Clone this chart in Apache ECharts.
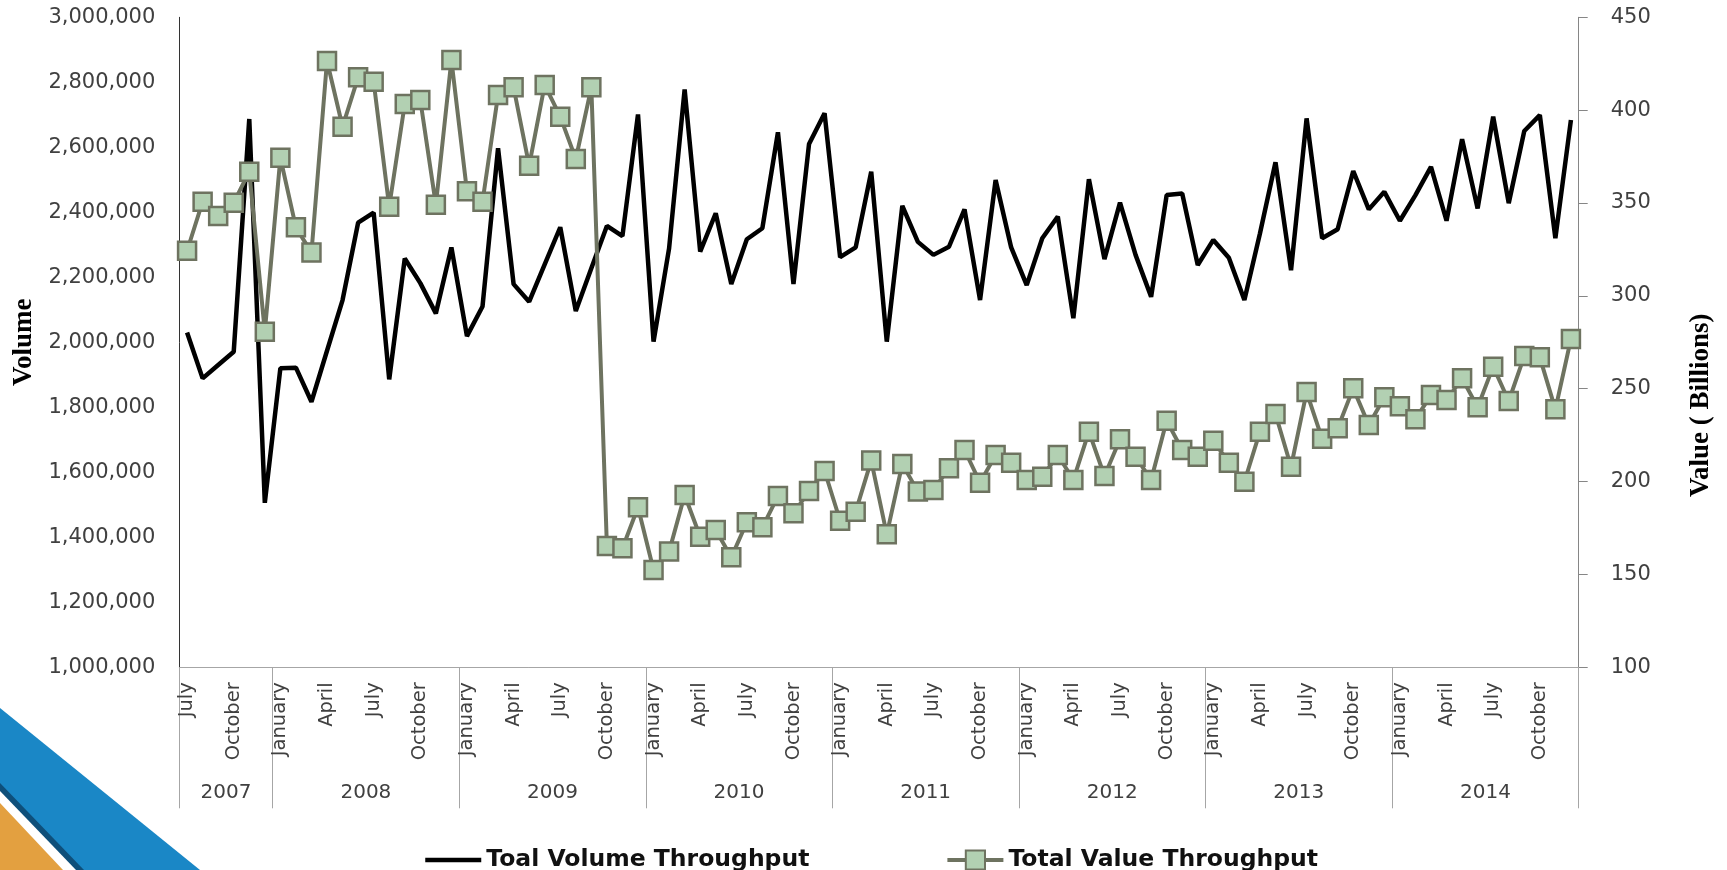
<!DOCTYPE html>
<html>
<head>
<meta charset="utf-8">
<title>Volume and Value Throughput</title>
<script src="https://cdn.jsdelivr.net/npm/echarts@6/dist/echarts.min.js"></script>
<style>
  html, body { margin: 0; padding: 0; background: #fff; }
  #chart { width: 1727px; height: 870px; }
</style>
</head>
<body>
<div id="chart"></div>
<script>
  // series run monthly from July 2007 to December 2014
  const years = ['2007', '2008', '2009', '2010', '2011', '2012', '2013', '2014']
  const monthsPerYear = [6, 12, 12, 12, 12, 12, 12, 12]
  const firstMonth = 6 // July
  const monthNames = ['January', 'February', 'March', 'April', 'May', 'June',
    'July', 'August', 'September', 'October', 'November', 'December']
  const shownMonths = ['January', 'April', 'July', 'October']

  const volumeTitle = 'Toal Volume Throughput'
  const valueTitle = 'Total Value Throughput'

  const volume = [
    2030000, 1889000, 1930000, 1971000, 2687000, 1506000,
    1920000, 1922000, 1817000, 1974000, 2130000, 2368000, 2399000, 1886000, 2258000, 2182000, 2089000, 2292000,
    2019000, 2110000, 2597000, 2179000, 2125000, 2240000, 2354000, 2096000, 2228000, 2358000, 2327000, 2701000,
    2002000, 2289000, 2778000, 2279000, 2397000, 2179000, 2317000, 2351000, 2646000, 2179000, 2610000, 2705000,
    2262000, 2292000, 2525000, 2002000, 2420000, 2309000, 2269000, 2294000, 2409000, 2130000, 2499000, 2292000,
    2176000, 2320000, 2387000, 2074000, 2502000, 2256000, 2430000, 2269000, 2140000, 2453000, 2458000, 2238000,
    2315000, 2260000, 2130000, 2335000, 2554000, 2222000, 2689000, 2320000, 2348000, 2527000, 2409000, 2463000,
    2374000, 2453000, 2540000, 2374000, 2625000, 2412000, 2694000, 2428000, 2650000, 2699000, 2320000, 2684000
  ]

  const value = [
    324.3, 350.7, 343.0, 350.2, 366.9, 280.7,
    374.4, 336.9, 323.3, 426.5, 391.1, 417.7, 415.3, 348.0, 403.3, 405.5, 349.0, 427.0,
    356.3, 350.7, 408.2, 412.3, 370.1, 413.6, 396.5, 373.7, 412.3, 165.3, 164.1, 186.2,
    152.4, 162.3, 192.8, 170.3, 173.9, 159.2, 178.1, 175.4, 192.2, 182.9, 194.9, 205.7,
    178.9, 183.8, 211.3, 171.6, 209.5, 194.6, 195.5, 207.2, 217.0, 199.4, 214.3, 210.2,
    200.9, 202.6, 214.3, 200.9, 226.9, 203.0, 222.8, 213.4, 200.9, 232.8, 217.0, 213.4,
    222.0, 210.2, 199.9, 226.9, 236.4, 208.0, 248.2, 223.0, 228.7, 250.2, 230.5, 245.4,
    240.5, 233.6, 246.6, 243.9, 255.6, 240.0, 261.9, 243.4, 267.6, 266.9, 238.9, 276.8
  ]

  // month categories + year group edges / centres
  const categories = []
  const yearEdges = [0]
  const yearCenters = []
  years.forEach((y, k) => {
    const start = k === 0 ? firstMonth : 0
    for (let j = 0; j < monthsPerYear[k]; j++) {
      categories.push(monthNames[start + j] + ' ' + y)
    }
    yearCenters.push(yearEdges[k] + monthsPerYear[k] / 2)
    yearEdges.push(yearEdges[k] + monthsPerYear[k])
  })

  const labelColor = '#404040'
  const gridColor = '#a6a6a6'
  const volumeColor = '#000000'
  const valueLine = '#6e7360'
  const valueFill = '#b2d0b2'

  const chart = echarts.init(document.getElementById('chart'), null, { renderer: 'canvas' })

  chart.setOption({
    animation: false,
    backgroundColor: '#ffffff',
    textStyle: { fontFamily: 'DejaVu Sans' },
    grid: {
      left: 179.3,
      right: 148.3,
      top: 17.3,
      bottom: 202.7,
      containLabel: false
    },
    legend: {
      left: 418,
      top: 843,
      itemWidth: 56,
      itemHeight: 24,
      itemGap: 136,
      textStyle: {
        fontFamily: 'DejaVu Sans',
        fontWeight: 'bold',
        fontSize: 23.5,
        color: '#111'
      },
      data: [
        {
          name: volumeTitle,
          itemStyle: { color: 'transparent', borderWidth: 0 },
          lineStyle: { color: volumeColor, width: 4.5 }
        },
        {
          name: valueTitle,
          lineStyle: { color: valueLine, width: 4 }
        }
      ]
    },
    xAxis: [
      {
        type: 'category',
        data: categories,
        boundaryGap: true,
        axisLine: { lineStyle: { color: gridColor, width: 1 } },
        axisTick: { show: false },
        splitLine: { show: false },
        axisLabel: {
          rotate: 90,
          margin: 15,
          fontSize: 19.5,
          color: labelColor,
          interval: (index, val) => shownMonths.indexOf(val.split(' ')[0]) > -1,
          formatter: val => val.split(' ')[0]
        }
      },
      {
        type: 'value',
        min: 0,
        max: categories.length,
        position: 'bottom',
        axisLine: { show: false },
        splitLine: { show: false },
        axisTick: {
          show: true,
          customValues: yearEdges,
          length: 141,
          lineStyle: { color: gridColor, width: 1 }
        },
        axisLabel: {
          customValues: yearCenters,
          margin: 115,
          fontSize: 20,
          color: labelColor,
          formatter: v => years[yearCenters.indexOf(v)]
        }
      }
    ],
    yAxis: [
      {
        type: 'value',
        position: 'left',
        min: 1000000,
        max: 3000000,
        interval: 200000,
        splitLine: { show: false },
        axisLine: { show: true, lineStyle: { color: '#333', width: 1 } },
        axisTick: { show: false },
        axisLabel: {
          margin: 24,
          fontSize: 21,
          color: labelColor,
          formatter: v => v.toLocaleString('en-US')
        },
        name: 'Volume',
        nameLocation: 'middle',
        nameGap: 141,
        nameRotate: 90,
        nameTextStyle: {
          fontFamily: 'Liberation Serif',
          fontWeight: 'bold',
          fontSize: 27,
          color: '#000'
        }
      },
      {
        type: 'value',
        position: 'right',
        min: 100,
        max: 450,
        interval: 50,
        splitLine: { show: false },
        axisLine: { show: true, lineStyle: { color: '#868686', width: 1 } },
        axisTick: { show: true, length: 9, lineStyle: { color: '#868686' } },
        axisLabel: {
          margin: 32,
          fontSize: 21,
          color: labelColor
        },
        name: 'Value ( Billions)',
        nameLocation: 'middle',
        nameGap: 109,
        nameRotate: 90,
        nameTextStyle: {
          fontFamily: 'Liberation Serif',
          fontWeight: 'bold',
          fontSize: 27,
          color: '#000',
          padding: [0, 126, 0, 0]
        }
      }
    ],
    series: [
      {
        name: volumeTitle,
        type: 'line',
        xAxisIndex: 0,
        yAxisIndex: 0,
        data: volume,
        symbol: 'none',
        lineStyle: { color: volumeColor, width: 4.5 },
        itemStyle: { color: volumeColor }
      },
      {
        name: valueTitle,
        type: 'line',
        xAxisIndex: 0,
        yAxisIndex: 1,
        data: value,
        symbol: 'rect',
        symbolSize: 18,
        showAllSymbol: true,
        lineStyle: { color: valueLine, width: 4 },
        itemStyle: { color: valueFill, borderColor: valueLine, borderWidth: 2.5 }
      }
    ],
    // slide decoration in the bottom-left corner
    graphic: [
      { type: 'polygon', z: -1, shape: { points: [[0, 708], [200, 870], [0, 870]] }, style: { fill: '#1a87c6' } },
      { type: 'polygon', z: -1, shape: { points: [[0, 783], [84, 870], [0, 870]] }, style: { fill: '#0e4f7a' } },
      { type: 'polygon', z: -1, shape: { points: [[0, 791], [76, 870], [0, 870]] }, style: { fill: '#ffffff' } },
      { type: 'polygon', z: -1, shape: { points: [[0, 803], [63, 870], [0, 870]] }, style: { fill: '#e3a040' } }
    ]
  })
</script>
</body>
</html>
